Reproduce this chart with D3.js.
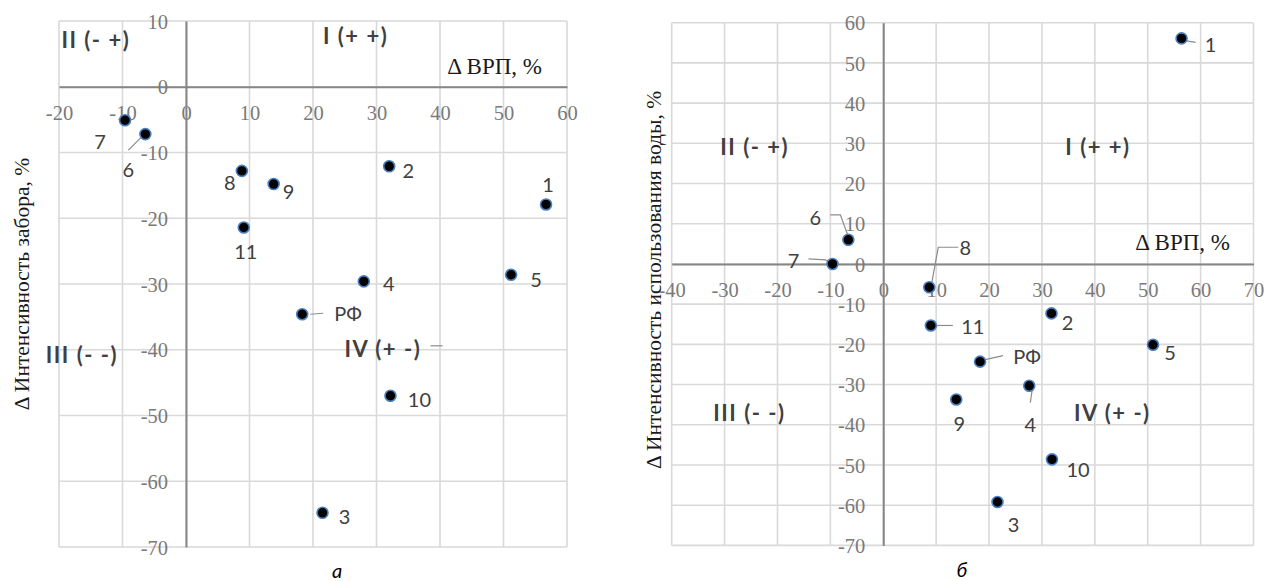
<!DOCTYPE html>
<html><head><meta charset="utf-8">
<script src="https://cdn.jsdelivr.net/npm/d3@7/dist/d3.min.js"></script>
<style>
html,body{margin:0;padding:0;background:#fff;}
svg{display:block;}
.serif{font-family:"Liberation Serif","Times New Roman",serif !important;}
.sans{font-family:Lato,"Open Sans",sans-serif !important;}
</style></head>
<body>
<svg id="chart" width="1266" height="581"></svg>
<script>
// ---------- DATA ----------
const regions = ["1","2","3","4","5","6","7","8","9","10","11","РФ"];
// Chart a
const grpA        = [56.7, 32.0, 21.5, 28.0, 51.2, -6.4, -9.6, 8.8, 13.8, 32.2, 9.1, 18.3];
const withdrawalA = [-17.9, -12.1, -64.8, -29.6, -28.6, -7.2, -5.1, -12.8, -14.8, -47.0, -21.4, -34.6];
const xTicksA = [-20,-10,0,10,20,30,40,50,60];
const yTicksA = [10,0,-10,-20,-30,-40,-50,-60,-70];
// Chart б
const grpB   = [56.4, 31.8, 21.6, 27.6, 51.0, -6.6, -9.6, 8.7, 13.8, 31.9, 9.0, 18.3];
const waterB = [56.1, -12.3, -59.2, -30.3, -20.1, 6.0, 0.0, -5.8, -33.7, -48.6, -15.3, -24.3];
const xTicksB = [-40,-30,-20,-10,0,10,20,30,40,50,60,70];
const yTicksB = [60,50,40,30,20,10,0,-10,-20,-30,-40,-50,-60,-70];

const quadrants = ["I (+ +)","II (- +)","III (- -)","IV (+ -)"];
const xTitle = "Δ ВРП, %";
const yTitleA = "Δ Интенсивность забора, %";
const yTitleB = "Δ Интенсивность  использования  воды,  %";
const captions = ["а","б"];

// ---------- LAYOUT / STYLE ----------
const svg = d3.select("#chart");
const GRID = "#d9d9d9", AXIS = "#868686", TICK = "#7a7a7a", LBL = "#404040";
const fmt = d => String(d);

const labA = {
  "1":{dx:2,dy:-19}, "2":{dx:19,dy:5}, "3":{dx:22,dy:4}, "4":{dx:25,dy:3},
  "5":{dx:25,dy:5}, "6":{dx:-17,dy:36,lead:[[-2,1],[-17,16]]}, "7":{dx:-25,dy:22},
  "8":{dx:-12,dy:12}, "9":{dx:15,dy:8}, "10":{dx:29,dy:4}, "11":{dx:2,dy:25},
  "РФ":{dx:46,dy:0,lead:[[8,0],[21,-1]]}
};
const labB = {
  "1":{dx:29,dy:7,lead:[[2,2],[14,4]]}, "2":{dx:16,dy:10}, "3":{dx:16,dy:23},
  "4":{dx:1,dy:39,lead:[[3,4],[1,17]]}, "5":{dx:17,dy:8},
  "6":{dx:-33,dy:-22,lead:[[0,-3],[-8,-25],[-18,-25]]},
  "7":{dx:-39,dy:-3,lead:[[0,0],[-7,-4],[-24,-5]]},
  "8":{dx:36,dy:-39,lead:[[2,-2],[9,-40],[29,-40]]},
  "9":{dx:3,dy:25}, "10":{dx:26,dy:11},
  "11":{dx:42,dy:2,lead:[[5,0],[22,0]]},
  "РФ":{dx:47,dy:-5,lead:[[5,-2],[23,-6]]}
};

function drawChart(cfg){
  const g = svg.append("g");
  const x = d3.scaleLinear().domain(cfg.xDom).range([cfg.left, cfg.right]);
  const y = d3.scaleLinear().domain(cfg.yDom).range([cfg.bottom, cfg.top]);
  const x0 = x(0), y0 = y(0);

  g.append("g").selectAll("line").data(cfg.xTicks).join("line")
    .attr("x1",d=>x(d)).attr("x2",d=>x(d)).attr("y1",cfg.top).attr("y2",cfg.bottom)
    .attr("stroke",GRID).attr("stroke-width",1.6);
  g.append("g").selectAll("line").data(cfg.yTicks).join("line")
    .attr("y1",d=>y(d)).attr("y2",d=>y(d)).attr("x1",cfg.left).attr("x2",cfg.right)
    .attr("stroke",GRID).attr("stroke-width",1.6);

  const ax = g.append("g").attr("transform",`translate(0,${y0})`)
    .call(d3.axisBottom(x).tickValues(cfg.xTicks).tickSize(0).tickSizeOuter(0).tickFormat(fmt));
  ax.attr("font-family",null).attr("font-size",null);
  ax.select(".domain").attr("stroke",AXIS).attr("stroke-width",2);
  ax.selectAll("text").attr("y",26).attr("dy","0.35em").attr("fill",TICK)
    .attr("class","serif").attr("font-size",20.5);
  const ay = g.append("g").attr("transform",`translate(${x0},0)`)
    .call(d3.axisLeft(y).tickValues(cfg.yTicks).tickSize(0).tickSizeOuter(0).tickFormat(fmt));
  ay.attr("font-family",null).attr("font-size",null);
  ay.select(".domain").attr("stroke",AXIS).attr("stroke-width",2);
  ay.selectAll("text").attr("x",-18).attr("dy","0.35em").attr("fill",TICK)
    .attr("class","serif").attr("font-size",20.5);

  g.append("text").attr("x",cfg.xTitlePos[0]).attr("y",cfg.xTitlePos[1])
    .attr("text-anchor","end").attr("dy","0.35em").attr("fill","#1a1a1a")
    .attr("class","serif").attr("font-size",23).text(xTitle);
  g.append("text").attr("transform",`translate(${cfg.yTitlePos[0]},${cfg.yTitlePos[1]}) rotate(-90)`)
    .attr("text-anchor","middle").attr("dy","0.35em").attr("fill","#1a1a1a")
    .attr("class","serif").attr("font-size",21.5).text(cfg.yTitle);

  cfg.quadPos.forEach((p,i)=>{
    g.append("text").attr("x",x(p[0])).attr("y",y(p[1])).attr("text-anchor","middle")
      .attr("dy","0.35em").attr("fill",LBL).attr("class","sans")
      .attr("font-weight","bold").attr("font-size",22).attr("letter-spacing",1.5)
      .text(quadrants[i]);
  });
  if(cfg.extra) cfg.extra(g,x,y);

  const pts = regions.map((r,i)=>({r, px:x(cfg.xs[i]), py:y(cfg.ys[i])}));
  g.append("g").selectAll("polyline").data(pts.filter(d=>cfg.lab[d.r].lead)).join("polyline")
    .attr("points",d=>cfg.lab[d.r].lead.map(p=>[d.px+p[0],d.py+p[1]].join(",")).join(" "))
    .attr("fill","none").attr("stroke","#8c8c8c").attr("stroke-width",1.2);
  g.append("g").selectAll("circle").data(pts).join("circle")
    .attr("cx",d=>d.px).attr("cy",d=>d.py).attr("r",5.5)
    .attr("fill","#000").attr("stroke","#4a7fc1").attr("stroke-width",1.6);
  g.append("g").selectAll("text").data(pts).join("text")
    .attr("x",d=>d.px+cfg.lab[d.r].dx).attr("y",d=>d.py+cfg.lab[d.r].dy)
    .attr("text-anchor","middle").attr("dy","0.35em").attr("fill",LBL)
    .attr("class","sans").attr("font-size",20).text(d=>d.r);

  g.append("text").attr("x",cfg.capPos[0]).attr("y",cfg.capPos[1]).attr("text-anchor","middle")
    .attr("dy","0.35em").attr("fill","#000").attr("class","sans")
    .attr("font-style","italic").attr("font-size",20).text(cfg.caption);
}

drawChart({
  xDom:[-20,60], yDom:[-70,10], left:59, right:567, top:21, bottom:547,
  xTicks:xTicksA, yTicks:yTicksA, xs:grpA, ys:withdrawalA, lab:labA,
  xTitlePos:[542,66], yTitle:yTitleA, yTitlePos:[21,284],
  quadPos:[[26.7,7.6],[-14.2,7.1],[-16.4,-40.8],[31.0,-40.0]],
  capPos:[337,571], caption:captions[0],
  extra:(g,x,y)=>{
    g.append("line").attr("x1",x(38.5)).attr("x2",x(40.4)).attr("y1",y(-39.4)).attr("y2",y(-39.4))
      .attr("stroke","#8c8c8c").attr("stroke-width",1.2);
  }
});
drawChart({
  xDom:[-40,70], yDom:[-70,60], left:671.7, right:1253.5, top:22.7, bottom:545.4,
  xTicks:xTicksB, yTicks:yTicksB, xs:grpB, ys:waterB, lab:labB,
  xTitlePos:[1230,242], yTitle:yTitleB, yTitlePos:[653,280],
  quadPos:[[40.6,29.1],[-24.3,29.1],[-25.3,-37.2],[43.3,-37.2]],
  capPos:[962,570], caption:captions[1]
});
</script>
</body></html>
